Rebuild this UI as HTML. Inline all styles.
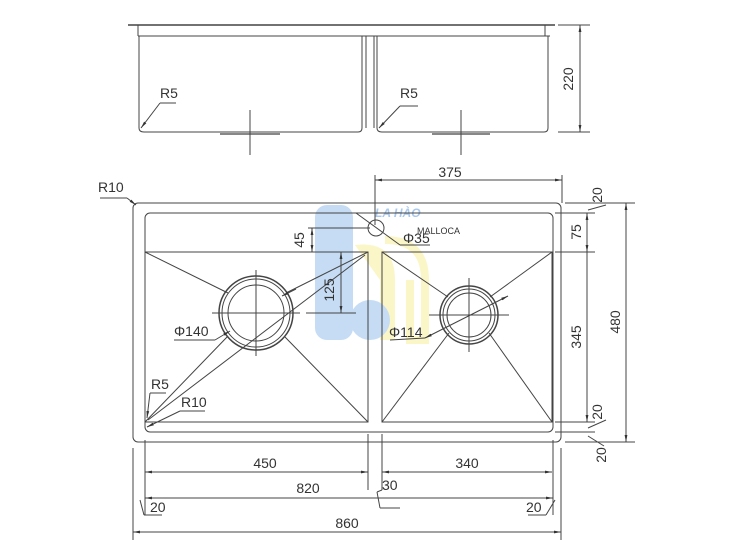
<!DOCTYPE html>
<html><head><meta charset="utf-8"><style>
body{margin:0;background:#fff}
svg{display:block}
text{font-family:"Liberation Sans",sans-serif;font-size:14px;fill:#333}
</style></head><body>
<svg width="750" height="560" viewBox="0 0 750 560" xmlns="http://www.w3.org/2000/svg">
<defs>
<marker id="a" viewBox="0 0 10 10" refX="10" refY="5" markerWidth="7" markerHeight="7" orient="auto-start-reverse"><path d="M0,3 L10,5 L0,7 z" fill="#333"/></marker>
</defs>
<rect x="315" y="205" width="38" height="135" rx="12" fill="#c5dcf4"/>
<path d="M355 245 Q395 240 395 280 L395 340 L380 340 L380 280" fill="#fbf6c8"/>
<path d="M385 240 Q425 240 425 280 L425 340 L410 340 L410 280" fill="none" stroke="#fbf6c8" stroke-width="8"/>
<circle cx="370" cy="320" r="20" fill="#c5dcf4"/>
<text x="375" y="217" style="font-size:12px;font-style:italic;font-weight:bold;fill:#a9c8ee">LA HÀO</text>

<g fill="none" stroke="#444" stroke-width="1">
<line x1="128" y1="25" x2="555" y2="25" stroke-width="1.5"/>
<line x1="138" y1="36" x2="550" y2="36"/>
<line x1="138" y1="25" x2="138" y2="36"/><line x1="545" y1="25" x2="545" y2="36"/>
<path d="M139 36 L139 128 Q139 132 144 132 L358 132 Q362 132 362 128 L362 36"/>
<path d="M366 36 L366 128"/>
<path d="M377 36 L377 128 Q377 132 382 132 L544 132 Q548 132 548 128 L548 36"/>
<path d="M374 36 L374 128"/>
<line x1="220" y1="134" x2="280" y2="134" stroke="#888" stroke-width="2"/>
<line x1="432" y1="134" x2="490" y2="134" stroke="#888" stroke-width="2"/>
<line x1="250" y1="110" x2="250" y2="155"/><line x1="461" y1="110" x2="461" y2="155"/>
<line x1="160" y1="103" x2="176" y2="103"/><line x1="160" y1="103" x2="141" y2="128" marker-end="url(#a)"/>
<line x1="400" y1="106" x2="418" y2="106"/><line x1="400" y1="106" x2="379" y2="128" marker-end="url(#a)"/>
<line x1="558" y1="25" x2="590" y2="25"/><line x1="558" y1="132" x2="590" y2="132"/>
<line x1="580" y1="25" x2="580" y2="132" marker-start="url(#a)" marker-end="url(#a)"/>

<rect x="133" y="203" width="428" height="239" rx="5"/>
<rect x="145" y="213" width="408" height="219" rx="5"/>
<rect x="145" y="252" width="223" height="170"/>
<rect x="382" y="252" width="170" height="170"/>
<line x1="145" y1="252" x2="228" y2="293"/><line x1="368" y1="252" x2="286" y2="293"/>
<line x1="145" y1="422" x2="228" y2="336"/><line x1="368" y1="422" x2="285" y2="337"/>
<circle cx="256" cy="313" r="37" stroke-width="1.5"/><circle cx="256" cy="313" r="34"/><circle cx="256" cy="313" r="28"/>
<line x1="212" y1="313" x2="300" y2="313"/><line x1="256" y1="270" x2="256" y2="356"/>
<line x1="306" y1="313" x2="344" y2="313"/>
<line x1="148" y1="420" x2="365" y2="255"/>
<line x1="382" y1="252" x2="448" y2="297"/><line x1="552" y1="252" x2="490" y2="297"/>
<line x1="382" y1="422" x2="449" y2="333"/><line x1="552" y1="422" x2="489" y2="333"/>
<circle cx="469" cy="315" r="29" stroke-width="1.5"/><circle cx="469" cy="315" r="26"/><circle cx="469" cy="315" r="22"/>
<line x1="429" y1="315" x2="509" y2="315"/><line x1="469" y1="278" x2="469" y2="352"/>
<line x1="425" y1="338" x2="508" y2="296" marker-start="url(#a)" marker-end="url(#a)"/>
<line x1="390" y1="340" x2="425" y2="338"/>
<circle cx="376" cy="228" r="8"/>
<line x1="356" y1="213" x2="400" y2="245"/><line x1="400" y1="245" x2="430" y2="245"/>
<line x1="174" y1="340" x2="215" y2="340"/><line x1="215" y1="340" x2="230" y2="331" marker-end="url(#a)"/>
<line x1="282" y1="296" x2="296" y2="289" marker-start="url(#a)"/>
<line x1="150" y1="393" x2="166" y2="393"/><line x1="150" y1="393" x2="147" y2="418" marker-end="url(#a)"/>
<line x1="180" y1="411" x2="205" y2="411"/><line x1="180" y1="411" x2="147" y2="427" marker-end="url(#a)"/>
<line x1="100" y1="198" x2="127" y2="198"/><line x1="127" y1="198" x2="136" y2="205" marker-end="url(#a)"/>
<line x1="308" y1="228" x2="370" y2="228"/>
<line x1="312" y1="228" x2="312" y2="252" marker-start="url(#a)" marker-end="url(#a)"/>
<line x1="320" y1="313" x2="356" y2="313"/>
<line x1="341" y1="252" x2="341" y2="313" marker-start="url(#a)" marker-end="url(#a)"/>
<line x1="375" y1="175" x2="375" y2="225"/><line x1="562" y1="175" x2="562" y2="203"/>
<line x1="375" y1="180" x2="562" y2="180" marker-start="url(#a)" marker-end="url(#a)"/>
<line x1="565" y1="203" x2="635" y2="203"/><line x1="555" y1="213" x2="595" y2="213"/>
<line x1="555" y1="252" x2="595" y2="252"/><line x1="555" y1="422" x2="595" y2="422"/>
<line x1="555" y1="432" x2="595" y2="432"/><line x1="565" y1="442" x2="635" y2="442"/>
<line x1="587" y1="213" x2="587" y2="252" marker-start="url(#a)" marker-end="url(#a)"/>
<line x1="587" y1="252" x2="587" y2="422" marker-end="url(#a)"/>
<line x1="626" y1="203" x2="626" y2="442" marker-start="url(#a)" marker-end="url(#a)"/>
<line x1="588" y1="210" x2="606" y2="205"/>
<line x1="588" y1="428" x2="606" y2="420"/>
<line x1="588" y1="436" x2="604" y2="446"/>
<line x1="133" y1="448" x2="133" y2="540"/><line x1="561" y1="448" x2="561" y2="540"/>
<line x1="145" y1="440" x2="145" y2="515"/><line x1="553" y1="440" x2="553" y2="515"/>
<line x1="368" y1="434" x2="368" y2="490"/><line x1="382" y1="434" x2="382" y2="490"/>
<line x1="145" y1="472" x2="368" y2="472" marker-start="url(#a)" marker-end="url(#a)"/>
<line x1="382" y1="472" x2="552" y2="472" marker-start="url(#a)" marker-end="url(#a)"/>
<line x1="145" y1="498" x2="553" y2="498" marker-start="url(#a)" marker-end="url(#a)"/>
<line x1="133" y1="532" x2="561" y2="532" marker-start="url(#a)" marker-end="url(#a)"/>
<line x1="377" y1="492" x2="382" y2="490"/><line x1="377" y1="492" x2="380" y2="508"/><line x1="380" y1="508" x2="400" y2="508"/>
<line x1="140" y1="500" x2="144" y2="515"/><line x1="144" y1="515" x2="162" y2="515"/>
<line x1="555" y1="500" x2="546" y2="515"/><line x1="546" y1="515" x2="528" y2="515"/>
</g>

<text x="160" y="98">R5</text>
<text x="400" y="98">R5</text>
<text transform="translate(573,79) rotate(-90)" text-anchor="middle">220</text>
<text x="98" y="192">R10</text>
<text x="450" y="177" text-anchor="middle">375</text>
<text transform="translate(304,240) rotate(-90)" text-anchor="middle">45</text>
<text transform="translate(334,290) rotate(-90)" text-anchor="middle">125</text>
<text x="403" y="243">Φ35</text>
<text x="417" y="234" style="font-size:9px">MALLOCA</text>
<text x="174" y="336">Φ140</text>
<text x="389" y="337">Φ114</text>
<text x="151" y="389">R5</text>
<text x="181" y="407">R10</text>
<text transform="translate(581,232) rotate(-90)" text-anchor="middle">75</text>
<text transform="translate(581,337) rotate(-90)" text-anchor="middle">345</text>
<text transform="translate(620,322) rotate(-90)" text-anchor="middle">480</text>
<text transform="translate(602,195) rotate(-90)" text-anchor="middle">20</text>
<text transform="translate(602,412) rotate(-90)" text-anchor="middle">20</text>
<text transform="translate(606,455) rotate(-90)" text-anchor="middle">20</text>
<text x="265" y="468" text-anchor="middle">450</text>
<text x="467" y="468" text-anchor="middle">340</text>
<text x="308" y="493" text-anchor="middle">820</text>
<text x="382" y="490">30</text>
<text x="150" y="512">20</text>
<text x="526" y="512">20</text>
<text x="347" y="528" text-anchor="middle">860</text>
</svg>
</body></html>
